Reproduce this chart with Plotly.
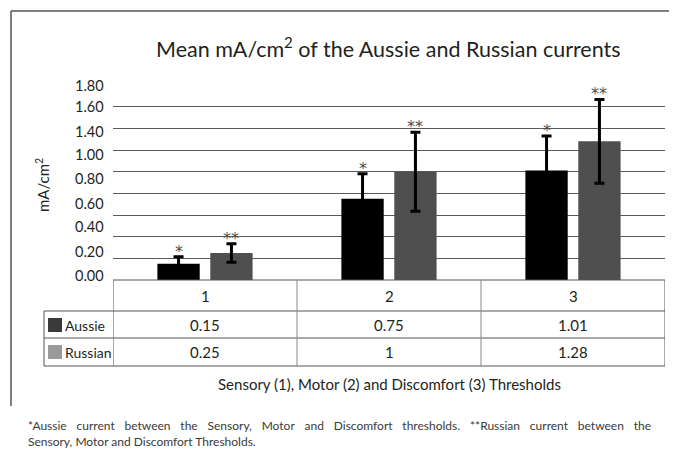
import plotly.graph_objects as go

# ---------------- data ----------------
categories = ["1", "2", "3"]
series_names = ["Aussie", "Russian"]
aussie = [0.15, 0.75, 1.01]
russian = [0.25, 1.0, 1.28]
aussie_err = [0.065, 0.23, 0.32]
russian_err = [0.085, 0.365, 0.387]
sig_marks = ["*", "**"]

y_grid_step = 0.2
y_max = 1.8
y_labels = ["1.80", "1.60", "1.40", "1.00", "0.80", "0.60", "0.40", "0.20", "0.00"]
y_label_pos = [1.80, 1.60, 1.375, 1.155, 0.94, 0.71, 0.49, 0.26, 0.045]

title_text = "Mean mA/cm<sup>2</sup> of the Aussie and Russian currents"
y_title_text = "mA/cm<sup>2</sup>"
x_title_text = "Sensory (1), Motor (2) and Discomfort (3) Thresholds"
footnote_lines = [
    "*Aussie current between the Sensory, Motor and Discomfort thresholds. **Russian current between the",
    "Sensory, Motor and Discomfort Thresholds.",
]

# ---------------- style ----------------
bar_colors = ["#000000", "#4f4f4f"]
swatch_colors = ["#3a3a3a", "#9a9a9a"]
FONT = "Lato, 'Open Sans', sans-serif"
TXT = "#231f20"
LINE = "#555555"

# page body adds an 8px offset; the figure is sized to compensate
OFF = 8
W, H = 677 - OFF, 452 - OFF
# plot area in reference pixel coordinates
RL, RR, RT, RB = 113, 665, 85, 280
PL, PR, PT, PB = RL - OFF, RR - OFF, RT - OFF, RB - OFF


def xp(px):
    return (px - RL) / (RR - RL)


def yp(py):
    return (RB - py) / (RB - RT)


def justify(line):
    # widen word gaps to mimic the justified first footnote line
    return line.replace(" ", "\u2002\u200a ")


values = [aussie, russian]
errors = [aussie_err, russian_err]

fig = go.Figure()
for name, vals, errs, col in zip(series_names, values, errors, bar_colors):
    fig.add_trace(go.Bar(
        x=categories, y=vals, name=name,
        marker=dict(color=col, line=dict(width=0)),
        error_y=dict(type="data", array=errs, visible=True,
                     color="#000000", thickness=3, width=5),
        showlegend=False,
    ))

shapes = []
annotations = []


def note(**kw):
    kw.setdefault("showarrow", False)
    kw.setdefault("xanchor", "center")
    kw.setdefault("yanchor", "middle")
    annotations.append(kw)


# frame
shapes.append(dict(type="line", xref="paper", yref="paper",
                   x0=xp(11), x1=xp(680), y0=yp(11), y1=yp(11),
                   line=dict(color=LINE, width=1.5)))
shapes.append(dict(type="line", xref="paper", yref="paper",
                   x0=xp(11), x1=xp(11), y0=yp(11), y1=yp(406),
                   line=dict(color=LINE, width=1.5)))

# data table lines
n = len(categories)
for ypx in [311, 338, 366]:
    shapes.append(dict(type="line", xref="paper", yref="paper",
                       x0=xp(44), x1=1, y0=yp(ypx), y1=yp(ypx),
                       line=dict(color=LINE, width=1)))
shapes.append(dict(type="line", xref="paper", yref="paper",
                   x0=0, x1=1, y0=0, y1=0, line=dict(color=LINE, width=1.2)))
for k in range(n + 1):
    edge = k in (0, n)
    shapes.append(dict(type="line", xref="x", yref="paper",
                       x0=k - 0.5, x1=k - 0.5, y0=0, y1=yp(366),
                       line=dict(color=LINE if edge else "#8a8a8a", width=1)))
shapes.append(dict(type="line", xref="paper", yref="paper",
                   x0=xp(44), x1=xp(44), y0=yp(311), y1=yp(366),
                   line=dict(color=LINE, width=1)))

# header row (category index positions on the category axis)
for j, c in enumerate(categories):
    note(x=j, xref="x", y=yp(296), yref="paper", text=c,
         font=dict(family=FONT, size=15, color=TXT))
# value rows + legend keys
row_centers = [325, 352]
for name, vals, sw, rc in zip(series_names, values, swatch_colors, row_centers):
    shapes.append(dict(type="rect", xref="paper", yref="paper",
                       x0=xp(48), x1=xp(62), y0=yp(rc - 7), y1=yp(rc + 7),
                       fillcolor=sw, line=dict(width=0)))
    note(x=xp(63), xref="paper", y=yp(rc), yref="paper", text=name,
         xanchor="left", font=dict(family=FONT, size=14, color=TXT))
    for j, v in enumerate(vals):
        note(x=j, xref="x", y=yp(rc), yref="paper", text=f"{v:g}",
             font=dict(family=FONT, size=15, color=TXT))

# significance marks above error bars
for i, (vals, errs, mk) in enumerate(zip(values, errors, sig_marks)):
    shift = -26 if i == 0 else 26
    for j, (v, e) in enumerate(zip(vals, errs)):
        note(x=j, xref="x", y=v + e, yref="y", text=mk,
             xshift=shift, yanchor="bottom", yshift=-6,
             font=dict(family="DejaVu Sans", size=16, color="#4d4d4d"))

# y tick labels
for lab, pos in zip(y_labels, y_label_pos):
    note(x=0, xref="paper", y=pos, yref="y", text=lab,
         xanchor="right", xshift=-7,
         font=dict(family=FONT, size=14.5, color=TXT))

# titles
note(x=xp(388), xref="paper", y=yp(47), yref="paper", text=title_text,
     font=dict(family=FONT, size=21.5, color=TXT))
note(x=xp(42), xref="paper", y=yp(185), yref="paper", text=y_title_text,
     textangle=-90, font=dict(family=FONT, size=15, color=TXT))
note(x=xp(389), xref="paper", y=yp(384), yref="paper", text=x_title_text,
     font=dict(family=FONT, size=15, color=TXT))
note(x=xp(26), xref="paper", y=yp(433), yref="paper",
     text=justify(footnote_lines[0]) + "<br>" + footnote_lines[1],
     xanchor="left", align="left",
     font=dict(family=FONT, size=12, color="#3a3a3a"))

fig.update_layout(
    width=W, height=H, autosize=False,
    margin=dict(l=PL, r=W - PR, t=PT, b=H - PB, pad=0),
    paper_bgcolor="white", plot_bgcolor="white",
    barmode="group", bargap=0.425, bargroupgap=0.2,
    xaxis=dict(type="category", range=[-0.5, n - 0.5], showticklabels=False,
               showgrid=False, zeroline=False, showline=False, ticks=""),
    yaxis=dict(range=[0, y_max], dtick=y_grid_step, tick0=0,
               showticklabels=False, showgrid=True, gridcolor="#5a5a5a",
               gridwidth=1.3, zeroline=False, showline=False, ticks=""),
    shapes=shapes, annotations=annotations,
    font=dict(family=FONT, color=TXT),
)

fig.write_html("out.html")
